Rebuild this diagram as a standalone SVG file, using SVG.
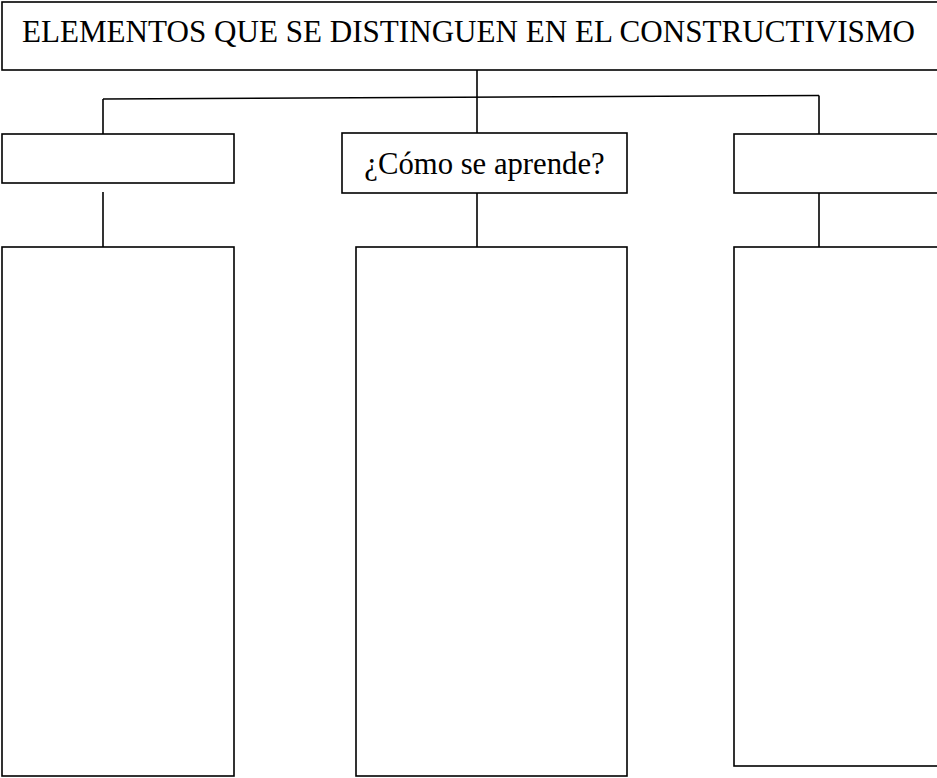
<svg xmlns="http://www.w3.org/2000/svg" width="937" height="778" viewBox="0 0 937 778">
<style>
.box{fill:#fff;stroke:#000;stroke-width:1.6}
.ln{fill:none;stroke:#000;stroke-width:1.6}
.t{font-family:"Liberation Serif","Times New Roman",serif;font-size:30.7px;fill:#000}
</style>
<rect width="937" height="778" fill="#fff"/>
<g id="connectors">
<line class="ln" x1="477" y1="70" x2="477" y2="133"/>
<line class="ln" x1="103" y1="99" x2="819" y2="95.5"/>
<line class="ln" x1="103" y1="99" x2="103" y2="134"/>
<line class="ln" x1="819" y1="95.5" x2="819" y2="134"/>
<line class="ln" x1="103" y1="192" x2="103" y2="247"/>
<line class="ln" x1="477" y1="193" x2="477" y2="247"/>
<line class="ln" x1="819" y1="193" x2="819" y2="247"/>
</g>
<g id="title">
<rect class="box" x="2" y="2" width="940" height="68"/>
<text class="t" x="22" y="42" style="font-size:31.1px" textLength="893" lengthAdjust="spacingAndGlyphs">ELEMENTOS QUE SE DISTINGUEN EN EL CONSTRUCTIVISMO</text>
</g>
<g id="left-head"><rect class="box" x="2" y="134" width="232" height="49"/></g>
<g id="mid-head">
<rect class="box" x="342" y="133" width="285" height="60"/>
<text class="t" x="484.5" y="174" text-anchor="middle">¿Cómo se aprende?</text>
</g>
<g id="right-head"><rect class="box" x="734" y="134" width="210" height="59"/></g>
<g id="left-body"><rect class="box" x="2" y="247" width="232" height="529"/></g>
<g id="mid-body"><rect class="box" x="356" y="247" width="271" height="529"/></g>
<g id="right-body"><rect class="box" x="734" y="247" width="210" height="519"/></g>
</svg>
